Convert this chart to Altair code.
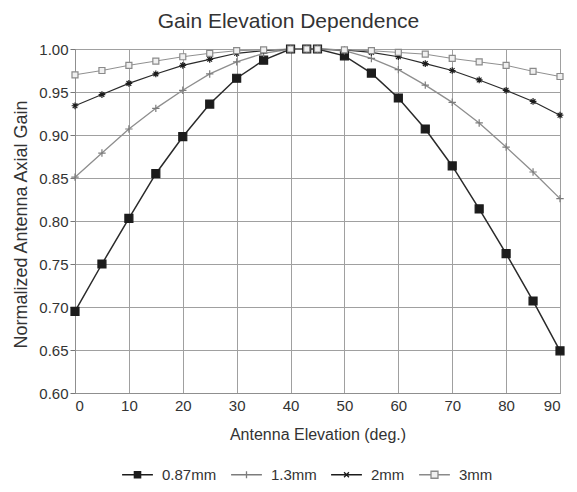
import altair as alt
import pandas as pd

FONT = "Liberation Sans"

# Data
elevation = [0, 5, 10, 15, 20, 25, 30, 35, 40, 43, 45, 50, 55, 60, 65, 70, 75, 80, 85, 90]
gain_087 = [0.695, 0.750, 0.803, 0.855, 0.898, 0.936, 0.966, 0.987, 1.000, 1.000, 1.000,
            0.992, 0.972, 0.943, 0.907, 0.864, 0.814, 0.762, 0.707, 0.649]
gain_13 = [0.851, 0.879, 0.907, 0.931, 0.952, 0.971, 0.985, 0.995, 1.000, 1.000, 1.000,
           0.998, 0.989, 0.976, 0.958, 0.938, 0.914, 0.886, 0.857, 0.826]
gain_2 = [0.934, 0.947, 0.960, 0.971, 0.981, 0.988, 0.995, 0.998, 1.000, 1.000, 1.000,
          0.999, 0.996, 0.991, 0.983, 0.975, 0.964, 0.952, 0.939, 0.923]
gain_3 = [0.970, 0.975, 0.981, 0.986, 0.991, 0.995, 0.998, 0.999, 1.000, 1.000, 1.000,
          0.999, 0.998, 0.996, 0.994, 0.989, 0.985, 0.981, 0.974, 0.968]
series_names = ["0.87mm", "1.3mm", "2mm", "3mm"]
y_ticks = [0.60, 0.65, 0.70, 0.75, 0.80, 0.85, 0.90, 0.95, 1.00]
x_ticks = [0, 10, 20, 30, 40, 50, 60, 70, 80, 90]

rows = []
for name, vals in zip(series_names, [gain_087, gain_13, gain_2, gain_3]):
    for e, g in zip(elevation, vals):
        rows.append({"elev": e, "gain": g, "series": name})
df = pd.DataFrame(rows)

# Styles
line_colors = ["#2a2a2a", "#8e8e8e", "#2a2a2a", "#909090"]
line_widths = [1.5, 1.0, 1.5, 1.0]
marker_fill = ["#1c1c1c", "transparent", "transparent", "#f0f0f0"]
marker_stroke = ["#1c1c1c", "#7c7c7c", "#1c1c1c", "#8a8a8a"]
marker_shape = [
    "M-1,-1H1V1H-1Z",
    "M-1,0H1M0,-1V1",
    "M-1,0H1M0,-1V1M-0.7,-0.7L0.7,0.7M-0.7,0.7L0.7,-0.7",
    "M-1,-1H1V1H-1Z",
]
marker_size = [64, 36, 42, 64]
legend_shape = [
    "M-4.4,0H4.4M-0.9,-0.9H0.9V0.9H-0.9Z",
    "M-4.4,0H4.4M0,-1V1",
    "M-4.4,0H4.4M-0.7,-0.7L0.7,0.7M-0.7,0.7L0.7,-0.7",
    "M-4.4,0H-1M1,0H4.4M-1,-1H1V1H-1Z",
]

dom = series_names

x_enc = alt.X("elev:Q", scale=alt.Scale(domain=[0, 90], nice=False),
              axis=alt.Axis(values=x_ticks, ticks=False, labelPadding=5,
                            title="Antenna Elevation (deg.)",
                            titleY=41, titleBaseline="middle"))
y_enc = alt.Y("gain:Q", scale=alt.Scale(domain=[0.6, 1.0], nice=False, zero=False),
              axis=alt.Axis(values=y_ticks, format=".2f", tickSize=5, labelPadding=2,
                            title="Normalized Antenna Axial Gain", titleFontSize=18,
                            titleX=-54, titleY=175, titleBaseline="middle"))

lines = alt.Chart(df).mark_line().encode(
    x=x_enc, y=y_enc,
    stroke=alt.Stroke("series:N", scale=alt.Scale(domain=dom, range=line_colors), legend=None),
    strokeWidth=alt.StrokeWidth("series:N", scale=alt.Scale(domain=dom, range=line_widths), legend=None),
)

points = alt.Chart(df).mark_point(opacity=1, filled=False, strokeWidth=1.2).encode(
    x="elev:Q", y="gain:Q",
    shape=alt.Shape("series:N", scale=alt.Scale(domain=dom, range=marker_shape), legend=None),
    fill=alt.Fill("series:N", scale=alt.Scale(domain=dom, range=marker_fill), legend=None),
    stroke=alt.Stroke("series:N", scale=alt.Scale(domain=dom, range=marker_stroke), legend=None),
    size=alt.Size("series:N", scale=alt.Scale(domain=dom, range=marker_size), legend=None),
)

leg = alt.Legend(orient="none", legendX=55, legendY=418, direction="horizontal", title=None,
                 labelFont=FONT, labelFontSize=15, labelColor="#333333",
                 symbolSize=49, labelOffset=17, columnPadding=11,
                 symbolStrokeWidth=1.3, symbolFillColor="#000000",
                 symbolStrokeColor="#000000", symbolOpacity=1)

legend_layer = alt.Chart(df).mark_point(opacity=1, filled=False, strokeWidth=1.3).encode(
    x="elev:Q", y="gain:Q",
    shape=alt.Shape("series:N", scale=alt.Scale(domain=dom, range=legend_shape), legend=leg),
    fill=alt.Fill("series:N", scale=alt.Scale(domain=dom, range=marker_fill), legend=leg),
    stroke=alt.Stroke("series:N", scale=alt.Scale(domain=dom, range=marker_stroke), legend=leg),
).transform_filter("false")

chart = alt.layer(lines, points, legend_layer).resolve_scale(
    shape="independent", fill="independent", stroke="independent"
).properties(
    width=485, height=344,
    title=alt.Title("Gain Elevation Dependence", font=FONT, fontSize=21, fontWeight="normal",
                    color="#333333", anchor="middle", dx=-29, dy=-6),
    autosize=alt.AutoSizeParams(type="none"),
    padding={"left": 67, "top": 41, "right": 9, "bottom": 91},
    background="white",
).configure_view(
    stroke="#8f8f8f", strokeWidth=1
).configure_axis(
    grid=True, gridColor="#a0a0a0", gridWidth=1, gridOpacity=1,
    domainColor="#8f8f8f", tickColor="#777777",
    labelFont=FONT, labelFontSize=15, labelColor="#333333",
    titleFont=FONT, titleFontSize=16, titleFontWeight="normal", titleColor="#333333",
)

chart.save("out.html", embed_options={"renderer": "svg", "actions": False})
